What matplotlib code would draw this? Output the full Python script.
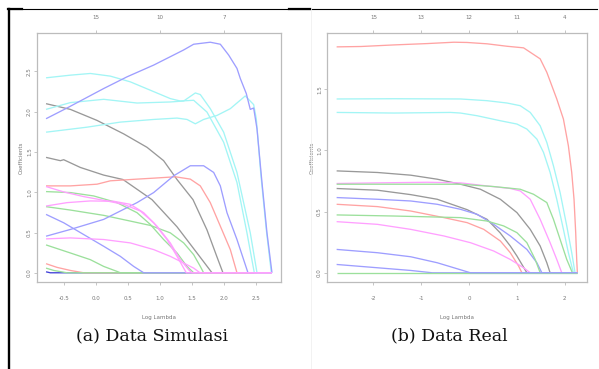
import numpy as np
import matplotlib
matplotlib.use("Agg")
import matplotlib.pyplot as plt
from matplotlib.lines import Line2D

# ---------------- colours (glmnet palette, rendered pale) ----------------
GRAY = "#999999"
RED = "#ffa3a3"
GREEN = "#9ce09c"
BLUE = "#9e9eff"
CYAN = "#a3f5f5"
MAGENTA = "#ffa0ff"
DKBLUE = "#4040d8"

# ---------------- (a) Data Simulasi : coefficient paths ----------------
sim_blue1_x = [-0.781, -0.453, 0.120, 0.484, 0.901, 1.370, 1.526, 1.786, 1.943, 2.073, 2.203, 2.255, 2.349, 2.411, 2.464, 2.516, 2.594, 2.672, 2.750]
sim_blue1_y = [1.913, 2.046, 2.288, 2.433, 2.579, 2.767, 2.838, 2.863, 2.838, 2.704, 2.538, 2.413, 2.225, 2.029, 2.046, 1.788, 1.121, 0.496, 0.0]
sim_cyanA_x = [-0.781, -0.401, -0.089, 0.224, 0.536, 0.849, 1.161, 1.318, 1.526, 1.734, 1.995, 2.203, 2.359, 2.474]
sim_cyanA_y = [2.421, 2.454, 2.475, 2.442, 2.371, 2.267, 2.163, 2.133, 2.142, 1.996, 1.621, 1.121, 0.496, 0.0]
sim_cyanB_x = [-0.781, -0.401, 0.120, 0.641, 1.161, 1.370, 1.552, 1.630, 1.786, 1.995, 2.203, 2.411, 2.516]
sim_cyanB_y = [2.029, 2.113, 2.154, 2.108, 2.121, 2.133, 2.233, 2.213, 2.038, 1.746, 1.246, 0.496, 0.0]
sim_cyanC_x = [-0.781, -0.141, 0.380, 0.901, 1.266, 1.422, 1.552, 1.682, 1.891, 2.099, 2.333, 2.464, 2.505, 2.578, 2.661, 2.740]
sim_cyanC_y = [1.746, 1.808, 1.871, 1.904, 1.921, 1.904, 1.850, 1.904, 1.954, 2.038, 2.196, 2.088, 1.913, 1.204, 0.538, 0.0]
sim_grayA_x = [-0.781, -0.401, 0.016, 0.432, 0.797, 1.057, 1.266, 1.516, 1.734, 1.891, 1.984]
sim_grayA_y = [2.100, 2.029, 1.892, 1.725, 1.558, 1.392, 1.158, 0.908, 0.533, 0.196, 0.0]
sim_grayB_x = [-0.781, -0.557, -0.505, -0.245, 0.120, 0.422, 0.875, 1.266, 1.578, 1.813]
sim_grayB_y = [1.433, 1.392, 1.404, 1.308, 1.213, 1.158, 0.908, 0.571, 0.246, 0.0]
sim_redA_x = [-0.781, -0.401, 0.016, 0.224, 0.641, 0.901, 1.240, 1.474, 1.630, 1.786, 1.943, 2.099, 2.203]
sim_redA_y = [1.079, 1.079, 1.100, 1.142, 1.163, 1.175, 1.192, 1.163, 1.079, 0.871, 0.579, 0.288, 0.0]
sim_redB_x = [-0.781, -0.609, -0.401, -0.193]
sim_redB_y = [0.113, 0.067, 0.029, 0.0]
sim_greenA_x = [-0.781, -0.401, -0.036, 0.328, 0.641, 0.849, 1.057, 1.266, 1.422, 1.526]
sim_greenA_y = [1.008, 0.996, 0.954, 0.871, 0.746, 0.600, 0.413, 0.246, 0.079, 0.0]
sim_greenB_x = [-0.781, -0.401, 0.120, 0.536, 0.849, 1.161, 1.370, 1.526, 1.630, 1.682]
sim_greenB_y = [0.821, 0.779, 0.713, 0.642, 0.588, 0.496, 0.371, 0.225, 0.079, 0.0]
sim_greenC_x = [-0.781, -0.401, -0.089, 0.120, 0.328, 0.380]
sim_greenC_y = [0.346, 0.246, 0.163, 0.079, 0.017, 0.0]
sim_greenD_x = [-0.781, -0.661, -0.453]
sim_greenD_y = [0.058, 0.029, 0.0]
sim_blueC_x = [-0.781, -0.505, -0.193, 0.120, 0.380, 0.589, 0.745]
sim_blueC_y = [0.725, 0.621, 0.475, 0.329, 0.204, 0.079, 0.0]
sim_blueM_x = [-0.781, -0.401, 0.120, 0.641, 0.901, 1.214, 1.474, 1.682, 1.839, 1.943, 2.047, 2.203, 2.307, 2.375]
sim_blueM_y = [0.454, 0.538, 0.663, 0.871, 0.996, 1.204, 1.329, 1.329, 1.246, 1.079, 0.746, 0.413, 0.163, 0.0]
sim_blueD_x = [-0.781, -0.714]
sim_blueD_y = [0.012, 0.0]
sim_magA_x = [-0.781, -0.453, -0.089, 0.276, 0.536, 0.745, 0.953, 1.161, 1.318, 1.448, 1.500]
sim_magA_y = [0.829, 0.871, 0.892, 0.888, 0.850, 0.746, 0.579, 0.371, 0.163, 0.038, 0.0]
sim_magB_x = [-0.781, -0.401, 0.120, 0.536, 0.901, 1.161, 1.370, 1.526, 1.625]
sim_magB_y = [0.421, 0.433, 0.413, 0.371, 0.288, 0.204, 0.121, 0.058, 0.0]
sim_magC_x = [-0.781, -0.505, -0.193, 0.120, 0.432, 0.693, 0.901, 1.109, 1.266, 1.370, 1.411]
sim_magC_y = [1.071, 1.004, 0.946, 0.900, 0.850, 0.767, 0.621, 0.413, 0.204, 0.058, 0.0]

sim_bottom_ticks = [-0.5, 0.0, 0.5, 1.0, 1.5, 2.0, 2.5]
sim_left_ticks = [0.0, 0.5, 1.0, 1.5, 2.0, 2.5]
sim_top_pos = [0.0, 1.0, 2.0]
sim_top_labels = ["15", "10", "7"]

# ---------------- (b) Data Real : coefficient paths ----------------
real_red1_x = [-2.771, -2.264, -1.569, -0.875, -0.319, -0.042, 0.375, 0.792, 1.139, 1.278, 1.486, 1.625, 1.833, 1.972, 2.076, 2.146, 2.194, 2.229, 2.250, 2.264]
real_red1_y = [1.847, 1.850, 1.863, 1.874, 1.885, 1.883, 1.872, 1.852, 1.839, 1.803, 1.749, 1.639, 1.421, 1.257, 1.038, 0.820, 0.601, 0.328, 0.109, 0.0]
real_cyan1_x = [-2.771, -1.569, -0.181, 0.375, 0.792, 1.069, 1.278, 1.486, 1.625, 1.764, 1.903, 2.042, 2.146, 2.215]
real_cyan1_y = [1.421, 1.423, 1.421, 1.407, 1.388, 1.366, 1.311, 1.202, 1.066, 0.874, 0.656, 0.383, 0.164, 0.0]
real_cyan2_x = [-2.771, -1.569, -0.389, -0.181, 0.167, 0.653, 1.000, 1.208, 1.417, 1.556, 1.694, 1.833, 1.972, 2.076, 2.181]
real_cyan2_y = [1.311, 1.306, 1.311, 1.306, 1.284, 1.243, 1.216, 1.175, 1.093, 0.984, 0.820, 0.601, 0.355, 0.164, 0.0]
real_gray1_x = [-2.771, -1.917, -1.222, -0.667, -0.181, 0.236, 0.653, 1.000, 1.278, 1.486, 1.625, 1.694]
real_gray1_y = [0.833, 0.820, 0.798, 0.765, 0.724, 0.683, 0.601, 0.492, 0.355, 0.219, 0.082, 0.0]
real_gray2_x = [-2.771, -1.917, -1.222, -0.667, -0.042, 0.375, 0.646, 0.861, 1.000, 1.208]
real_gray2_y = [0.689, 0.675, 0.639, 0.601, 0.516, 0.437, 0.328, 0.219, 0.137, 0.0]
real_mag1_x = [-2.771, -1.917, -0.875, -0.181, 0.375, 0.861, 1.069, 1.278, 1.486, 1.694, 1.833, 1.938]
real_mag1_y = [0.730, 0.735, 0.740, 0.735, 0.710, 0.689, 0.669, 0.601, 0.437, 0.246, 0.109, 0.0]
real_green1_x = [-2.771, -1.569, -0.181, 0.514, 1.069, 1.347, 1.625, 1.764, 1.903, 2.042, 2.160]
real_green1_y = [0.724, 0.724, 0.724, 0.705, 0.683, 0.642, 0.574, 0.437, 0.273, 0.109, 0.0]
real_blue1_x = [-2.771, -1.917, -1.222, -0.667, -0.181, 0.167, 0.514, 0.861, 1.208, 1.417, 1.521]
real_blue1_y = [0.615, 0.601, 0.587, 0.560, 0.519, 0.478, 0.396, 0.301, 0.191, 0.082, 0.0]
real_red2_x = [-2.771, -1.917, -1.222, -0.528, -0.042, 0.306, 0.653, 0.861, 1.035, 1.104]
real_red2_y = [0.560, 0.541, 0.505, 0.451, 0.410, 0.355, 0.260, 0.164, 0.055, 0.0]
real_green2_x = [-2.771, -1.569, -0.181, 0.375, 0.722, 1.000, 1.208, 1.382, 1.486]
real_green2_y = [0.473, 0.464, 0.451, 0.423, 0.383, 0.328, 0.246, 0.109, 0.0]
real_mag2_x = [-2.771, -1.917, -1.222, -0.528, 0.028, 0.514, 0.861, 1.139, 1.278]
real_mag2_y = [0.418, 0.396, 0.355, 0.301, 0.246, 0.178, 0.109, 0.041, 0.0]
real_blue2_x = [-2.771, -1.917, -1.222, -0.667, -0.319, 0.028]
real_blue2_y = [0.191, 0.164, 0.131, 0.082, 0.041, 0.0]
real_blue3_x = [-2.771, -1.917, -1.222, -0.771]
real_blue3_y = [0.068, 0.041, 0.019, 0.0]
real_green3_x = [-2.771, 0.028]
real_green3_y = [0.0, 0.0]

real_bottom_ticks = [-2, -1, 0, 1, 2]
real_left_ticks = [0.0, 0.5, 1.0, 1.5]
real_top_pos = [-2, -1, 0, 1, 2]
real_top_labels = ["15", "13", "12", "11", "4"]

sim_paths = [
    (sim_blueD_x, sim_blueD_y, DKBLUE),
    (sim_redB_x, sim_redB_y, RED),
    (sim_greenD_x, sim_greenD_y, GREEN),
    (sim_greenC_x, sim_greenC_y, GREEN),
    (sim_blueC_x, sim_blueC_y, BLUE),
    (sim_grayA_x, sim_grayA_y, GRAY),
    (sim_grayB_x, sim_grayB_y, GRAY),
    (sim_redA_x, sim_redA_y, RED),
    (sim_greenA_x, sim_greenA_y, GREEN),
    (sim_greenB_x, sim_greenB_y, GREEN),
    (sim_blueM_x, sim_blueM_y, BLUE),
    (sim_cyanA_x, sim_cyanA_y, CYAN),
    (sim_cyanB_x, sim_cyanB_y, CYAN),
    (sim_cyanC_x, sim_cyanC_y, CYAN),
    (sim_blue1_x, sim_blue1_y, BLUE),
    (sim_magB_x, sim_magB_y, MAGENTA),
    (sim_magA_x, sim_magA_y, MAGENTA),
    (sim_magC_x, sim_magC_y, MAGENTA),
]

real_paths = [
    (real_red1_x, real_red1_y, RED),
    (real_cyan1_x, real_cyan1_y, CYAN),
    (real_cyan2_x, real_cyan2_y, CYAN),
    (real_gray1_x, real_gray1_y, GRAY),
    (real_gray2_x, real_gray2_y, GRAY),
    (real_mag1_x, real_mag1_y, MAGENTA),
    (real_green1_x, real_green1_y, GREEN),
    (real_blue1_x, real_blue1_y, BLUE),
    (real_red2_x, real_red2_y, RED),
    (real_green2_x, real_green2_y, GREEN),
    (real_mag2_x, real_mag2_y, MAGENTA),
    (real_blue3_x, real_blue3_y, BLUE),
    (real_green3_x, real_green3_y, GREEN),
    (real_blue2_x, real_blue2_y, BLUE),
]

W, H = 599, 369
fig = plt.figure(figsize=(W / 100, H / 100), dpi=100)
fig.patch.set_facecolor("white")

TICK_FS = 4.0
TICK_C = "#777777"
SPINE_C = "#bcbcbc"


def draw_panel(ax, paths, bticks, lticks, tpos, tlabels, ylabel_x):
    xs = np.concatenate([np.asarray(p[0]) for p in paths])
    ys = np.concatenate([np.asarray(p[1]) for p in paths])
    xmin, xmax = xs.min(), xs.max()
    ymin, ymax = ys.min(), ys.max()
    for x, y, c in paths:
        x = np.append(x, xmax)
        y = np.append(y, 0.0)
        ax.plot(x, y, color=c, lw=0.95, solid_capstyle="butt")
    px = 0.04 * (xmax - xmin)
    py = 0.04 * (ymax - ymin)
    ax.set_xlim(xmin - px, xmax + px)
    ax.set_ylim(ymin - py, ymax + py)
    for s in ax.spines.values():
        s.set_color(SPINE_C)
        s.set_linewidth(0.9)
    ax.set_xticks(bticks)
    ax.set_xticklabels([f"{t:.1f}" if isinstance(t, float) else str(t) for t in bticks])
    ax.set_yticks(lticks)
    ax.set_yticklabels([f"{t:.1f}" for t in lticks], rotation=90, va="center")
    ax.tick_params(axis="both", labelsize=TICK_FS, colors=TICK_C, length=2.2,
                   width=0.6, color=SPINE_C)
    ax.tick_params(axis="x", pad=8)
    ax.tick_params(axis="y", pad=1.5)
    sec = ax.secondary_xaxis("top")
    sec.set_xticks(tpos)
    sec.set_xticklabels(tlabels)
    sec.tick_params(labelsize=TICK_FS, colors=TICK_C, length=2.2, width=0.6,
                    color=SPINE_C, pad=7)
    sec.spines["top"].set_visible(False)
    ax.set_xlabel("Log Lambda", fontsize=TICK_FS, color=TICK_C, labelpad=10)
    ax.set_ylabel("Coefficients", fontsize=TICK_FS, color=TICK_C)
    ax.yaxis.set_label_coords(ylabel_x, 0.5)


ax1 = fig.add_axes([37 / W, 1 - 282 / H, 244 / W, 249 / H])
draw_panel(ax1, sim_paths, sim_bottom_ticks, sim_left_ticks, sim_top_pos,
           sim_top_labels, -0.055)

ax2 = fig.add_axes([327 / W, 1 - 282 / H, 260 / W, 249 / H])
draw_panel(ax2, real_paths, real_bottom_ticks, real_left_ticks, real_top_pos,
           real_top_labels, -0.047)

# captions
fig.text(152 / W, 1 - 336 / H, "(a) Data Simulasi", ha="center", va="center",
         fontsize=12.5, family="DejaVu Serif", color="#111111")
fig.text(449 / W, 1 - 336 / H, "(b) Data Real", ha="center", va="center",
         fontsize=12.5, family="DejaVu Serif", color="#111111")

# table borders
yt = 1 - 8.5 / H
fig.add_artist(Line2D([8 / W, 597 / W], [yt, yt], color="black", lw=0.8))
fig.add_artist(Line2D([8 / W, 22 / W], [yt, yt], color="black", lw=1.6))
fig.add_artist(Line2D([289 / W, 310 / W], [yt, yt], color="black", lw=1.6))
fig.add_artist(Line2D([8.5 / W, 8.5 / W], [0, yt], color="black", lw=1.7))
fig.add_artist(Line2D([310.5 / W, 310.5 / W], [0, yt], color="#f0f0f0", lw=0.6))

fig.savefig("out.png", dpi=100, facecolor="white")
